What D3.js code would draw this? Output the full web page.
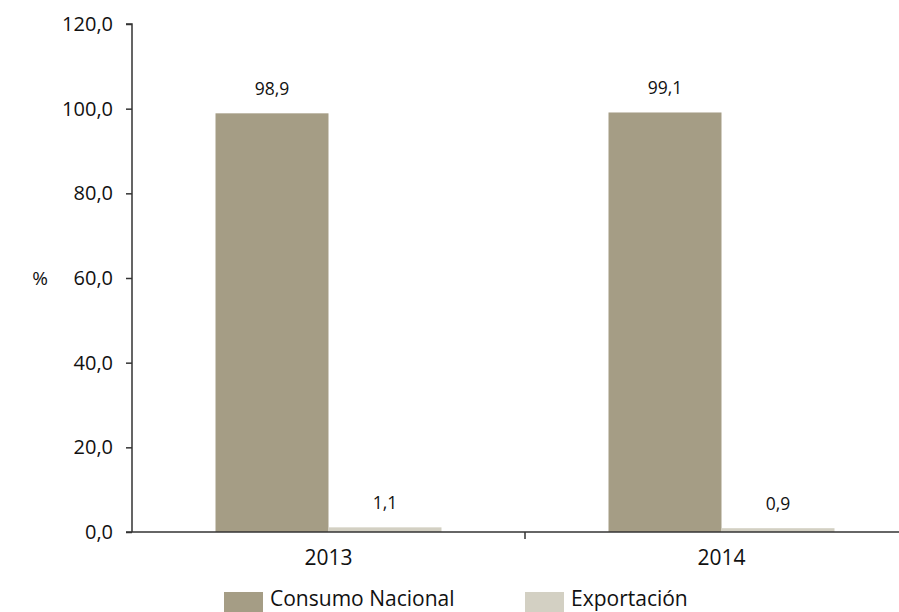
<!DOCTYPE html>
<html><head><meta charset="utf-8">
<script src="https://cdn.jsdelivr.net/npm/d3@7"></script>
<style>body{margin:0;background:#fff}svg{display:block}text{font-family:"Open Sans","Noto Sans",sans-serif;fill:#111}</style>
</head><body>
<svg id="c" width="899" height="612"></svg>
<script>
const categories = ["2013","2014"];
const seriesNames = ["Consumo Nacional","Exportación"];
const consumo = [98.9, 99.1];
const exportacion = [1.1, 0.9];
const valueLabels = [["98,9","1,1"],["99,1","0,9"]];
const yTicks = [0,20,40,60,80,100,120];
const colors = ["#a59d85","#d3d0c3"];

const svg = d3.select("#c");
const x0 = 132, yBottom = 532, yTop = 24;
const x = d3.scaleBand().domain(categories).range([x0, x0 + 393*2]).paddingInner(0).paddingOuter(0);
const y = d3.scaleLinear().domain([0,120]).range([yBottom, yTop]);
const inner = d3.scaleBand().domain(seriesNames).range([0, x.bandwidth()]).paddingInner(0).paddingOuter(0.739);
const fmt = v => d3.format(".1f")(v).replace(".", ",");

// y axis
const ya = svg.append("g").attr("transform",`translate(${x0},0)`)
  .call(d3.axisLeft(y).tickValues(yTicks).tickFormat(fmt).tickSize(6).tickPadding(13));
ya.select(".domain").attr("stroke","#333").attr("stroke-width",1.5).attr("d",`M-6,${yTop}H0V${yBottom}`);
ya.selectAll(".tick line").attr("stroke","#333").attr("stroke-width",1.5);
ya.selectAll(".tick text").style("font-size","20px").attr("fill","#111");

svg.append("text").attr("x",40).attr("y",y(60)+7).attr("text-anchor","middle").style("font-size","19px").text("%");

// bars
const data = categories.map((c,i)=>({cat:c, vals:[consumo[i], exportacion[i]]}));
const g = svg.append("g");
data.forEach((d,i)=>{
  d.vals.forEach((v,j)=>{
    const bx = x(d.cat) + inner(seriesNames[j]);
    g.append("rect").attr("x",bx).attr("y",y(v)).attr("width",inner.bandwidth()).attr("height",y(0)-y(v)).attr("fill",colors[j]);
    g.append("text").attr("x",bx+inner.bandwidth()/2).attr("y",y(v)-18).attr("text-anchor","middle").style("font-size","17.5px").text(valueLabels[i][j]);
  });
});

// x axis
const xa = svg.append("g").attr("transform",`translate(0,${yBottom})`)
  .call(d3.axisBottom(x).tickSize(0).tickPadding(18));
xa.select(".domain").attr("stroke","#333").attr("stroke-width",1.5).attr("d",`M126,0H899`);
xa.selectAll(".tick text").style("font-size","21px").attr("fill","#111");
svg.append("line").attr("x1",x("2014")).attr("x2",x("2014")).attr("y1",yBottom).attr("y2",yBottom+7).attr("stroke","#333").attr("stroke-width",1.5);

// legend
const legX = [224, 525];
seriesNames.forEach((s,j)=>{
  svg.append("rect").attr("x",legX[j]).attr("y",592).attr("width",39).attr("height",20).attr("fill",colors[j]);
  svg.append("text").attr("x",legX[j]+46).attr("y",606).style("font-size","21px").text(s);
});
</script>
</body></html>
